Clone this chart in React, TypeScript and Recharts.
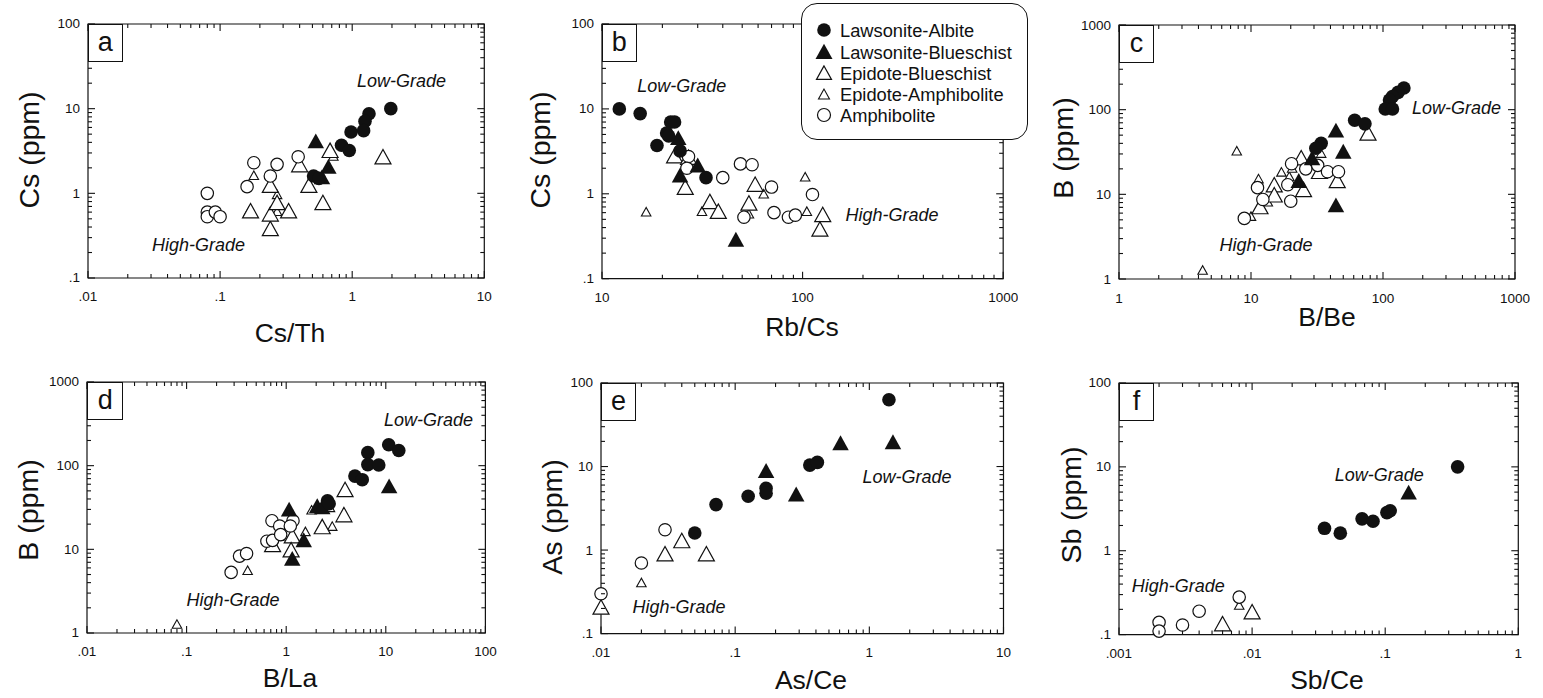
import React from 'react';
import { ScatterChart, Scatter, XAxis, YAxis, ReferenceArea } from 'recharts';

type Pt = { x: number; y: number };
type Note = { x: number; y: number; text: string };

const FONT = '"Liberation Sans", Arial, Helvetica, sans-serif';

// Series names (legend order)
const seriesNames = ['Lawsonite-Albite', 'Lawsonite-Blueschist', 'Epidote-Blueschist', 'Epidote-Amphibolite', 'Amphibolite'];

// ---------- Panel a: Cs (ppm) vs Cs/Th ----------
const aLA: Pt[] = [{ x: 1.96, y: 10 }, { x: 1.34, y: 8.7 }, { x: 1.25, y: 7.1 }, { x: 1.22, y: 5.5 }, { x: 0.98, y: 5.3 }, { x: 0.83, y: 3.7 }, { x: 0.95, y: 3.2 }, { x: 0.51, y: 1.6 }, { x: 0.56, y: 1.5 }];
const aLB: Pt[] = [{ x: 0.53, y: 4.0 }, { x: 0.66, y: 2.0 }, { x: 0.59, y: 1.5 }];
const aEB: Pt[] = [{ x: 1.71, y: 2.6 }, { x: 0.68, y: 3.1 }, { x: 0.6, y: 0.75 }, { x: 0.47, y: 1.2 }, { x: 0.4, y: 2.1 }, { x: 0.33, y: 0.6 }, { x: 0.24, y: 1.2 }, { x: 0.24, y: 0.37 }, { x: 0.24, y: 0.55 }, { x: 0.27, y: 0.75 }, { x: 0.17, y: 0.6 }];
const aEA: Pt[] = [{ x: 0.18, y: 1.6 }, { x: 0.27, y: 0.95 }, { x: 0.27, y: 0.6 }, { x: 0.165, y: 0.6 }, { x: 0.72, y: 2.7 }];
const aAM: Pt[] = [{ x: 0.08, y: 1.0 }, { x: 0.08, y: 0.6 }, { x: 0.08, y: 0.53 }, { x: 0.092, y: 0.6 }, { x: 0.1, y: 0.53 }, { x: 0.16, y: 1.2 }, { x: 0.18, y: 2.3 }, { x: 0.24, y: 1.6 }, { x: 0.27, y: 2.2 }, { x: 0.39, y: 2.7 }];
const aNotes: Note[] = [{ x: 2.36, y: 21.4, text: 'Low-Grade' }, { x: 0.0686, y: 0.248, text: 'High-Grade' }];

// ---------- Panel b: Cs (ppm) vs Rb/Cs ----------
const bLA: Pt[] = [{ x: 12.2, y: 10 }, { x: 15.5, y: 8.8 }, { x: 22, y: 7 }, { x: 23, y: 7 }, { x: 21, y: 5.2 }, { x: 21.5, y: 4.8 }, { x: 18.8, y: 3.7 }, { x: 24.5, y: 3.2 }, { x: 33, y: 1.55 }];
const bLB: Pt[] = [{ x: 24, y: 4.4 }, { x: 30, y: 2.1 }, { x: 24.5, y: 1.6 }, { x: 46.5, y: 0.28 }];
const bEB: Pt[] = [{ x: 23, y: 2.7 }, { x: 27, y: 2.6 }, { x: 26, y: 1.15 }, { x: 34.5, y: 0.78 }, { x: 38, y: 0.6 }, { x: 54, y: 0.75 }, { x: 58, y: 1.25 }, { x: 126, y: 0.55 }, { x: 122, y: 0.37 }];
const bEA: Pt[] = [{ x: 16.6, y: 0.6 }, { x: 31.5, y: 0.61 }, { x: 54, y: 0.57 }, { x: 64, y: 0.98 }, { x: 103, y: 1.55 }, { x: 105, y: 0.61 }];
const bAM: Pt[] = [{ x: 27, y: 2.75 }, { x: 26.5, y: 2.0 }, { x: 40, y: 1.55 }, { x: 49, y: 2.25 }, { x: 56, y: 2.2 }, { x: 70, y: 1.2 }, { x: 51, y: 0.53 }, { x: 72, y: 0.6 }, { x: 85, y: 0.53 }, { x: 92, y: 0.56 }, { x: 112, y: 0.98 }];
const bNotes: Note[] = [{ x: 25, y: 18.8, text: 'Low-Grade' }, { x: 279, y: 0.57, text: 'High-Grade' }];

// ---------- Panel c: B (ppm) vs B/Be ----------
const cLA: Pt[] = [{ x: 144, y: 180 }, { x: 130, y: 160 }, { x: 118, y: 143 }, { x: 112, y: 130 }, { x: 104, y: 102 }, { x: 118, y: 102 }, { x: 61, y: 75 }, { x: 73, y: 68 }, { x: 34, y: 40 }, { x: 31, y: 35 }];
const cLB: Pt[] = [{ x: 44, y: 55 }, { x: 50, y: 31 }, { x: 29, y: 26 }, { x: 23, y: 14 }, { x: 44, y: 7.2 }];
const cEB: Pt[] = [{ x: 77, y: 51 }, { x: 33, y: 18 }, { x: 45, y: 14 }, { x: 25, y: 11 }, { x: 15, y: 12.5 }, { x: 15, y: 9.5 }, { x: 11.7, y: 6.9 }, { x: 24, y: 26 }];
const cEA: Pt[] = [{ x: 7.8, y: 32 }, { x: 4.3, y: 1.25 }, { x: 10, y: 5.4 }, { x: 13.4, y: 8 }, { x: 11.4, y: 15 }, { x: 17, y: 18 }, { x: 19.5, y: 16 }, { x: 34, y: 30 }, { x: 20.5, y: 20 }];
const cAM: Pt[] = [{ x: 8.9, y: 5.2 }, { x: 11.2, y: 12 }, { x: 12.3, y: 8.7 }, { x: 20.3, y: 23 }, { x: 19, y: 13 }, { x: 20, y: 8.3 }, { x: 26, y: 20 }, { x: 32, y: 22 }, { x: 38, y: 18.5 }, { x: 46, y: 18.5 }];
const cNotes: Note[] = [{ x: 361, y: 105, text: 'Low-Grade' }, { x: 13, y: 2.55, text: 'High-Grade' }];

// ---------- Panel d: B (ppm) vs B/La ----------
const dLA: Pt[] = [{ x: 10.7, y: 178 }, { x: 13.5, y: 152 }, { x: 6.6, y: 143 }, { x: 6.6, y: 103 }, { x: 8.5, y: 102 }, { x: 4.9, y: 75 }, { x: 5.8, y: 68 }, { x: 2.6, y: 38 }, { x: 2.7, y: 35 }];
const dLB: Pt[] = [{ x: 10.8, y: 55 }, { x: 1.07, y: 29 }, { x: 2.05, y: 32 }, { x: 2.3, y: 31 }, { x: 1.5, y: 12.5 }, { x: 1.15, y: 7.5 }];
const dEB: Pt[] = [{ x: 3.9, y: 50 }, { x: 3.8, y: 25 }, { x: 2.3, y: 18 }, { x: 1.15, y: 14 }, { x: 1.12, y: 9.5 }, { x: 0.73, y: 11 }];
const dEA: Pt[] = [{ x: 0.08, y: 1.25 }, { x: 0.41, y: 5.5 }, { x: 2.9, y: 18.5 }, { x: 2.75, y: 31 }, { x: 1.8, y: 29 }, { x: 1.56, y: 16 }, { x: 0.85, y: 14 }];
const dAM: Pt[] = [{ x: 0.28, y: 5.3 }, { x: 0.34, y: 8.3 }, { x: 0.4, y: 8.9 }, { x: 0.72, y: 22 }, { x: 0.86, y: 19 }, { x: 1.17, y: 22 }, { x: 1.1, y: 19 }, { x: 0.64, y: 12.5 }, { x: 0.73, y: 12.8 }, { x: 0.88, y: 15 }];
const dNotes: Note[] = [{ x: 26.8, y: 348, text: 'Low-Grade' }, { x: 0.292, y: 2.45, text: 'High-Grade' }];

// ---------- Panel e: As (ppm) vs As/Ce ----------
const eLA: Pt[] = [{ x: 1.4, y: 63 }, { x: 0.36, y: 10.4 }, { x: 0.41, y: 11.2 }, { x: 0.17, y: 5.5 }, { x: 0.17, y: 4.8 }, { x: 0.125, y: 4.4 }, { x: 0.072, y: 3.5 }, { x: 0.05, y: 1.6 }];
const eLB: Pt[] = [{ x: 0.61, y: 18.5 }, { x: 1.5, y: 19 }, { x: 0.17, y: 8.6 }, { x: 0.285, y: 4.5 }];
const eEB: Pt[] = [{ x: 0.03, y: 0.87 }, { x: 0.04, y: 1.25 }, { x: 0.061, y: 0.87 }, { x: 0.01, y: 0.2 }];
const eEA: Pt[] = [{ x: 0.02, y: 0.4 }, { x: 0.01, y: 0.3 }];
const eAM: Pt[] = [{ x: 0.03, y: 1.75 }, { x: 0.02, y: 0.7 }, { x: 0.01, y: 0.3 }];
const eNotes: Note[] = [{ x: 1.91, y: 7.5, text: 'Low-Grade' }, { x: 0.0382, y: 0.206, text: 'High-Grade' }];

// ---------- Panel f: Sb (ppm) vs Sb/Ce ----------
const fLA: Pt[] = [{ x: 0.35, y: 10 }, { x: 0.035, y: 1.85 }, { x: 0.046, y: 1.62 }, { x: 0.067, y: 2.4 }, { x: 0.081, y: 2.25 }, { x: 0.103, y: 2.85 }, { x: 0.109, y: 3.0 }];
const fLB: Pt[] = [{ x: 0.15, y: 4.8 }];
const fEB: Pt[] = [{ x: 0.006, y: 0.13 }, { x: 0.01, y: 0.18 }];
const fEA: Pt[] = [{ x: 0.008, y: 0.22 }];
const fAM: Pt[] = [{ x: 0.002, y: 0.14 }, { x: 0.002, y: 0.11 }, { x: 0.003, y: 0.13 }, { x: 0.004, y: 0.19 }, { x: 0.008, y: 0.28 }];
const fNotes: Note[] = [{ x: 0.0902, y: 7.96, text: 'Low-Grade' }, { x: 0.00279, y: 0.383, text: 'High-Grade' }];

// ---------- Tick labels ----------
const ticks01to10 = [0.01, 0.1, 1, 10];
const labels01to10 = ['.01', '.1', '1', '10'];
const ticks10to1000 = [10, 100, 1000];
const labels10to1000 = ['10', '100', '1000'];
const ticks1to1000 = [1, 10, 100, 1000];
const labels1to1000 = ['1', '10', '100', '1000'];
const ticks01to100 = [0.1, 1, 10, 100];
const labels01to100 = ['.1', '1', '10', '100'];
const ticks01to100b = [0.01, 0.1, 1, 10, 100];
const labels01to100b = ['.01', '.1', '1', '10', '100'];
const ticks001to1 = [0.001, 0.01, 0.1, 1];
const labels001to1 = ['.001', '.01', '.1', '1'];

// ---------- Layout ----------
const ML = 60, MT = 15, MR = 15, MB = 30;

type Panel = {
  id: string; left: number; top: number; w: number; h: number;
  xMajor: number[]; xLabels: string[]; yMajor: number[]; yLabels: string[];
  series: Pt[][]; notes: Note[];
  xTitle: string; yTitle: string; xTitlePos: [number, number]; yTitlePos: [number, number];
  boxW: number;
};

const panels: Panel[] = [
  { id: 'a', left: 87.7, top: 24, w: 396.3, h: 254, xMajor: ticks01to10, xLabels: labels01to10, yMajor: ticks01to100, yLabels: labels01to100,
    series: [aLA, aLB, aEB, aEA, aAM], notes: aNotes, xTitle: 'Cs/Th', yTitle: 'Cs (ppm)', xTitlePos: [290, 333], yTitlePos: [29, 150], boxW: 35 },
  { id: 'b', left: 601.7, top: 24.3, w: 401.2, h: 254.7, xMajor: ticks10to1000, xLabels: labels10to1000, yMajor: ticks01to100, yLabels: labels01to100,
    series: [bLA, bLB, bEB, bEA, bAM], notes: bNotes, xTitle: 'Rb/Cs', yTitle: 'Cs (ppm)', xTitlePos: [802, 327], yTitlePos: [540, 150], boxW: 35 },
  { id: 'c', left: 1119, top: 25.3, w: 396, h: 254, xMajor: ticks1to1000, xLabels: labels1to1000, yMajor: ticks1to1000, yLabels: labels1to1000,
    series: [cLA, cLB, cEB, cEA, cAM], notes: cNotes, xTitle: 'B/Be', yTitle: 'B (ppm)', xTitlePos: [1327, 317], yTitlePos: [1063, 148], boxW: 35 },
  { id: 'd', left: 87.3, top: 381.7, w: 398.4, h: 251, xMajor: ticks01to100b, xLabels: labels01to100b, yMajor: ticks1to1000, yLabels: labels1to1000,
    series: [dLA, dLB, dEB, dEA, dAM], notes: dNotes, xTitle: 'B/La', yTitle: 'B (ppm)', xTitlePos: [290, 678], yTitlePos: [28, 510], boxW: 36 },
  { id: 'e', left: 601, top: 382.7, w: 402.5, h: 250.6, xMajor: ticks01to10, xLabels: labels01to10, yMajor: ticks01to100, yLabels: labels01to100,
    series: [eLA, eLB, eEB, eEA, eAM], notes: eNotes, xTitle: 'As/Ce', yTitle: 'As (ppm)', xTitlePos: [811, 680], yTitlePos: [552, 517], boxW: 35 },
  { id: 'f', left: 1119, top: 382.7, w: 399.3, h: 251.6, xMajor: ticks001to1, xLabels: labels001to1, yMajor: ticks01to100, yLabels: labels01to100,
    series: [fLA, fLB, fEB, fEA, fAM], notes: fNotes, xTitle: 'Sb/Ce', yTitle: 'Sb (ppm)', xTitlePos: [1327, 680], yTitlePos: [1071, 505], boxW: 35 },
];

// ---------- helpers ----------
function allTicks(majors: number[]): number[] {
  const out: number[] = [];
  for (let i = 0; i < majors.length - 1; i++) {
    for (let k = 1; k <= 9; k++) out.push(parseFloat((majors[i] * k).toPrecision(6)));
  }
  out.push(majors[majors.length - 1]);
  return out;
}
function majorIndex(v: number, majors: number[]): number {
  return majors.findIndex((m) => Math.abs(Math.log10(v) - Math.log10(m)) < 1e-6);
}

const INK = '#111';

function tri(cx: number, cy: number, s: number): string {
  const h = s * 0.9;
  return `${cx},${cy - h * 0.6} ${cx - s / 2},${cy + h * 0.4} ${cx + s / 2},${cy + h * 0.4}`;
}

const shapeLA = (p: any) => <circle cx={p.cx} cy={p.cy} r={6.8} fill={INK} />;
const shapeLB = (p: any) => <polygon points={tri(p.cx, p.cy, 16.5)} fill={INK} />;
const shapeEB = (p: any) => <polygon points={tri(p.cx, p.cy, 16)} fill="#fff" stroke={INK} strokeWidth={1.2} />;
const shapeEA = (p: any) => <polygon points={tri(p.cx, p.cy, 9.5)} fill="#fff" stroke={INK} strokeWidth={1.1} />;
const shapeAM = (p: any) => <circle cx={p.cx} cy={p.cy} r={6.2} fill="#fff" stroke={INK} strokeWidth={1.2} />;
const shapes = [shapeLA, shapeLB, shapeEB, shapeEA, shapeAM];
// draw order: open symbols first, filled on top
const drawOrder = [3, 2, 4, 1, 0];

function PanelChart({ p }: { p: Panel }) {
  const W = p.w + ML + MR;
  const H = p.h + MT + MB;
  const top = MT, bottom = MT + p.h, left = ML, right = ML + p.w;
  const xTicks = allTicks(p.xMajor);
  const yTicks = allTicks(p.yMajor);

  const XTick = (t: any) => {
    const v = t.payload.value;
    const x = t.x;
    const mi = majorIndex(v, p.xMajor);
    const len = mi >= 0 ? 7 : 4;
    return (
      <g>
        <line x1={x} x2={x} y1={bottom} y2={bottom - len} stroke={INK} strokeWidth={1.1} />
        <line x1={x} x2={x} y1={top} y2={top + len} stroke={INK} strokeWidth={1.1} />
        {mi >= 0 && (
          <text x={x} y={bottom + 19} textAnchor="middle" dominantBaseline="central" fontSize={13.5} fontFamily={FONT} fill={INK}>
            {p.xLabels[mi]}
          </text>
        )}
      </g>
    );
  };
  const YTick = (t: any) => {
    const v = t.payload.value;
    const y = t.y;
    const mi = majorIndex(v, p.yMajor);
    const len = mi >= 0 ? 7 : 4;
    return (
      <g>
        <line x1={left} x2={left + len} y1={y} y2={y} stroke={INK} strokeWidth={1.1} />
        <line x1={right} x2={right - len} y1={y} y2={y} stroke={INK} strokeWidth={1.1} />
        {mi >= 0 && (
          <text x={left - 8} y={y} textAnchor="end" dominantBaseline="central" fontSize={13.5} fontFamily={FONT} fill={INK}>
            {p.yLabels[mi]}
          </text>
        )}
      </g>
    );
  };

  const xDom: [number, number] = [p.xMajor[0], p.xMajor[p.xMajor.length - 1]];
  const yDom: [number, number] = [p.yMajor[0], p.yMajor[p.yMajor.length - 1]];

  return (
    <div style={{ position: 'absolute', left: p.left - ML, top: p.top - MT, width: W, height: H }}>
      <ScatterChart width={W} height={H} margin={{ top: MT, right: MR, bottom: 0, left: 0 }} style={{ overflow: 'visible' }}>
        <ReferenceArea x1={xDom[0]} x2={xDom[1]} y1={yDom[0]} y2={yDom[1]} fill="none" fillOpacity={0}
          stroke={INK} strokeWidth={1.2} strokeOpacity={1} />
        <XAxis type="number" dataKey="x" scale="log" domain={xDom} ticks={xTicks} interval={0}
          height={MB} tickLine={false} axisLine={false} tick={XTick} tickSize={0} tickMargin={0} />
        <YAxis type="number" dataKey="y" scale="log" domain={yDom} ticks={yTicks} interval={0}
          width={ML} tickLine={false} axisLine={false} tick={YTick} tickSize={0} tickMargin={0} />
        {drawOrder.map((si) => (
          <Scatter key={si} name={seriesNames[si]} data={p.series[si]} shape={shapes[si]} isAnimationActive={false} />
        ))}
        {p.notes.map((n, i) => (
          <Scatter key={'n' + i} data={[n]} isAnimationActive={false}
            shape={(sp: any) => (
              <text x={sp.cx} y={sp.cy} textAnchor="middle" dominantBaseline="central" fontSize={18}
                fontStyle="italic" fontFamily={FONT} fill={INK}>{n.text}</text>
            )} />
        ))}
      </ScatterChart>
    </div>
  );
}

function PanelOverlay({ p }: { p: Panel }) {
  return (
    <>
      <div style={{
        position: 'absolute', left: p.left, top: p.top, width: p.boxW, height: 38, boxSizing: 'border-box',
        border: `1.2px solid ${INK}`, background: '#fff', fontFamily: FONT, fontSize: 27, lineHeight: '34px',
        textAlign: 'center', color: INK,
      }}>{p.id}</div>
      <div style={{
        position: 'absolute', left: p.xTitlePos[0], top: p.xTitlePos[1], transform: 'translate(-50%, -50%)',
        fontFamily: FONT, fontSize: 26.5, lineHeight: 1, whiteSpace: 'nowrap', color: INK,
      }}>{p.xTitle}</div>
      <div style={{
        position: 'absolute', left: p.yTitlePos[0], top: p.yTitlePos[1], transform: 'translate(-50%, -50%) rotate(-90deg)',
        fontFamily: FONT, fontSize: 28.5, lineHeight: 1, whiteSpace: 'nowrap', color: INK,
      }}>{p.yTitle}</div>
    </>
  );
}

function LegendBox() {
  const rowY = [27, 49, 70, 91, 112];
  const mx = 23;
  return (
    <div style={{
      position: 'absolute', left: 801, top: 3, width: 227, height: 137, boxSizing: 'border-box',
      border: `1.5px solid ${INK}`, borderRadius: 16, background: '#fff', zIndex: 5,
    }}>
      <svg width={227} height={137} style={{ position: 'absolute', left: -1.5, top: -1.5 }}>
        {seriesNames.map((name, i) => (
          <g key={name}>
            {i === 0 && <circle cx={mx} cy={rowY[i]} r={6.8} fill={INK} />}
            {i === 1 && <polygon points={tri(mx, rowY[i] + 1, 17)} fill={INK} />}
            {i === 2 && <polygon points={tri(mx, rowY[i] + 1, 15)} fill="#fff" stroke={INK} strokeWidth={1.2} />}
            {i === 3 && <polygon points={tri(mx, rowY[i] + 1, 11)} fill="#fff" stroke={INK} strokeWidth={1.1} />}
            {i === 4 && <circle cx={mx} cy={rowY[i]} r={6.5} fill="#fff" stroke={INK} strokeWidth={1.2} />}
            <text x={39} y={rowY[i]} dominantBaseline="central" fontSize={18.3} fontFamily={FONT} fill={INK}>{name}</text>
          </g>
        ))}
      </svg>
    </div>
  );
}

export default function App() {
  return (
    <div style={{ position: 'absolute', left: 0, top: 0, width: 1543, height: 698, background: '#fff', overflow: 'hidden' }}>
      {panels.map((p) => <PanelChart key={p.id} p={p} />)}
      {panels.map((p) => <PanelOverlay key={'o' + p.id} p={p} />)}
      <LegendBox />
    </div>
  );
}
